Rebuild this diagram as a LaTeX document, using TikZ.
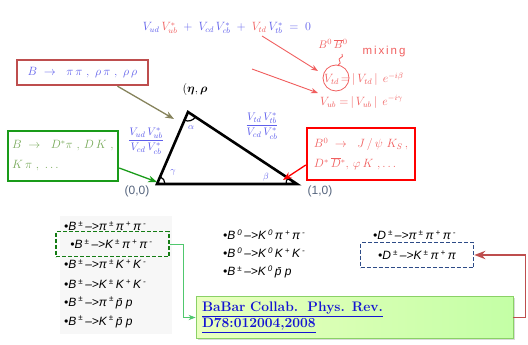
\documentclass[tikz,border=0pt]{standalone}
\usepackage{amsmath,amssymb}
\usepackage{fontspec}
\setsansfont{Liberation Sans}
\usepackage{xcolor}
\usepackage{tikz}
\usetikzlibrary{positioning,calc,arrows.meta,shadows,decorations.pathmorphing}

\definecolor{ckmblue}{RGB}{95,95,235}
\definecolor{ckmred}{RGB}{240,95,95}
\definecolor{boxred}{RGB}{190,78,78}
\definecolor{boxgreen}{RGB}{25,155,25}
\definecolor{txtgreen}{RGB}{120,170,90}
\definecolor{dashblue}{RGB}{45,75,135}
\definecolor{axisgray}{RGB}{85,100,125}
\definecolor{linkgreen}{RGB}{80,200,110}
\definecolor{refblue}{RGB}{20,20,210}

\newcommand{\hsup}[1]{\kern2pt\textsuperscript{#1}\kern2pt}

\begin{document}
\begin{tikzpicture}[
  x=1pt, y=1pt,
  box/.style={draw, line width=2.4pt, inner sep=4pt, align=left,
    font=\fontsize{11.5}{14}\selectfont},
  lbl/.style={font=\fontsize{12}{14}\selectfont, inner sep=1pt},
  decay/.style={font=\sffamily\itshape\fontsize{12}{13}\selectfont,
    anchor=west, inner sep=1pt},
  dbox/.style={draw, dashed, line width=1.6pt, dash pattern=on 4pt off 2pt,
    minimum width=113pt, minimum height=25pt, inner sep=1pt,
    font=\sffamily\itshape\fontsize{12}{13}\selectfont},
  arr/.style={-{Stealth}, line width=1.3pt},
]
\useasboundingbox (0,0) rectangle (528,-345);

% ---- unitarity relation (top) ----
\node[lbl, ckmblue] (unit) at (227,-28)
  {$V_{ud}\,\textcolor{ckmred}{V^*_{ub}} \;+\; V_{cd}\,V^*_{cb}
    \;+\; \textcolor{ckmred}{V_{td}}\,V^*_{tb} \;=\; 0$};
\coordinate (tdterm) at (262,-36);
\coordinate (ubterm) at (252,-69);

\node[lbl, ckmred, font=\fontsize{11}{13}\selectfont] (mix) at (333,-44)
  {$B^0\,\overline{B}{}^0$};
\node[lbl, ckmred, font=\fontsize{11.5}{13}\selectfont\sffamily] (mixing) at (384,-52)
  {m\,i\,x\,i\,n\,g};
\node[lbl, ckmred, anchor=west] (vtd) at (323,-79)
  {$V_{td}\,{=}\,|\,V_{td}\,|\;\, e^{-i\beta}$};
\node[lbl, ckmred, anchor=west] (vub) at (319,-102)
  {$V_{ub}\;{=}\,|\,V_{ub}\,|\;\, e^{-i\gamma}$};
\draw[ckmred, line width=0.8pt] (336,-78) circle (13);
\draw[ckmred, line width=0.8pt, decorate,
  decoration={snake, amplitude=1.2pt, segment length=7pt}]
  (342,-54) -- (338,-66);

\draw[arr, ckmred, line width=0.9pt] (tdterm) -- (318,-71);
\draw[arr, ckmred, line width=0.9pt] (ubterm) -- (318,-93);

% ---- unitarity triangle ----
\coordinate (o) at (157,-184);
\coordinate (p) at (297,-184);
\coordinate (a) at (188,-112);
\draw[line width=2.6pt, line join=miter] (o) -- (p) -- (a) -- cycle;
\draw[line width=1.2pt] ($(o)+(8,0)$) arc[start angle=0, end angle=66.7, radius=8];
\draw[line width=1.2pt] ($(p)+(146.6:11)$) arc[start angle=146.6, end angle=180, radius=11];
\draw[line width=1.2pt] ($(a)+(246.7:9)$) arc[start angle=246.7, end angle=326.6, radius=9];

\node[lbl, ckmblue, font=\small] (alpha) at (191,-128) {$\alpha$};
\node[lbl, ckmblue, font=\small] (gamma) at (173,-172) {$\gamma$};
\node[lbl, ckmblue, font=\small] (beta) at (266,-177) {$\beta$};

\node[lbl, axisgray, font=\fontsize{12}{14}\selectfont\sffamily] (orig) at (137,-191) {(0,0)};
\node[lbl, axisgray, font=\fontsize{12}{14}\selectfont\sffamily] (one) at (320,-191) {(1,0)};
\node[lbl] (apex) at (195,-90) {$(\boldsymbol{\eta},\boldsymbol{\rho}$};

\node[lbl, ckmblue, font=\fontsize{11}{13}\selectfont] (lside) at (146,-141)
  {$\dfrac{V_{ud}\,V^*_{ub}}{V_{cd}\,V^*_{cb}}$};
\node[lbl, ckmblue, font=\fontsize{11}{13}\selectfont] (rside) at (262,-126)
  {$\dfrac{V_{td}\,V^*_{tb}}{V_{cd}\,V^*_{cb}}$};

% ---- measurement channels ----
\node[box, draw=boxred, minimum width=131pt, minimum height=25pt,
  text=ckmblue, align=center] (pipi) at (82.5,-72.5)
  {$B \;\to\;\ \pi\,\pi\ ,\ \rho\,\pi\ ,\ \rho\,\rho$};
\node[box, draw=boxgreen, minimum width=110pt, minimum height=50pt,
  text=txtgreen] (dk) at (63,-156)
  {$B \;\to\;\ D^*\pi\ ,\, D\,K\ ,$\\[6pt] $K\,\pi\ ,\ \ldots$};
\node[box, draw=red, minimum width=108pt, minimum height=52pt,
  text=ckmred] (psik) at (361,-154)
  {$B^0 \;\to\;\ J\,/\,\psi\ K_S\,,$\\[6pt] $D^*\,\overline{D}{}^*,\,\varphi\,K\ ,\ldots$};

\draw[arr, black!55!olive!70] ($(pipi.south)+(35,0)$) -- (174,-119);
\draw[arr, boxgreen] ($(dk.east)+(0,-12)$) -- (157,-182);
\draw[arr, red] ($(psik.west)+(0,-11)$) -- (283,-180);

% ---- Dalitz modes (bottom) ----
\fill[black!3] (60,-216) rectangle (172,-334);
\node[decay] (b1) at (63,-226)
  {•B\hsup{±}–>π\hsup{±} π\hsup{+}π\hsup{-}};
\node[dbox, draw=boxgreen!80!black] (b2) at (112.5,-244)
  {•B\hsup{±}–>K\hsup{±} π\hsup{+}π\hsup{-}};
\node[decay] (b3) at (63,-264)
  {•B\hsup{±}–>π\hsup{±} K\hsup{+}K\hsup{-}};
\node[decay] (b4) at (63,-284)
  {•B\hsup{±}–>K\hsup{±} K\hsup{+}K\hsup{-}};
\node[decay] (b5) at (63,-303)
  {•B\hsup{±}–>π\hsup{±} \={p} p};
\node[decay] (b6) at (63,-322)
  {•B\hsup{±}–>K\hsup{±} \={p} p};

\node[decay] (c1) at (222,-235)
  {•B\hsup{0}–>K\hsup{0} π\hsup{+}π\hsup{-}};
\node[decay] (c2) at (222,-253)
  {•B\hsup{0}–>K\hsup{0} K\hsup{+}K\hsup{-}};
\node[decay] (c3) at (222,-272)
  {•B\hsup{±}–>K\hsup{0} \={p} p};

\node[decay] (d1) at (372,-235)
  {•D\hsup{±}–>π\hsup{±} π\hsup{+}π\hsup{-}};
\node[dbox, draw=dashblue] (d2) at (417,-255)
  {•D\hsup{±}–>K\hsup{±} π\hsup{+}π};

% ---- reference ----
\node[draw=green!55!lime!70!black!60, line width=0.8pt,
  left color=green!12!lime!25, right color=lime!45!green!35,
  drop shadow={opacity=0.3, shadow xshift=1.5pt, shadow yshift=-1.5pt},
  minimum width=317pt, minimum height=41pt, text width=305pt,
  inner sep=5pt, align=left, text=refblue,
  font=\fontsize{13.8}{16.5}\selectfont\bfseries] (ref) at (354.5,-317.5)
  {\underline{BaBar Collab.\ \ Phys. Rev.}\\ \underline{D78:012004,2008}};

\draw[-{Stealth}, linkgreen, line width=0.9pt] (b2.east) -- ++(14,0) |- (ref.west);
\draw[-{Stealth}, boxred, line width=1.8pt] (ref.east) -- ++(12,0) |- (d2.east);
\end{tikzpicture}
\end{document}
